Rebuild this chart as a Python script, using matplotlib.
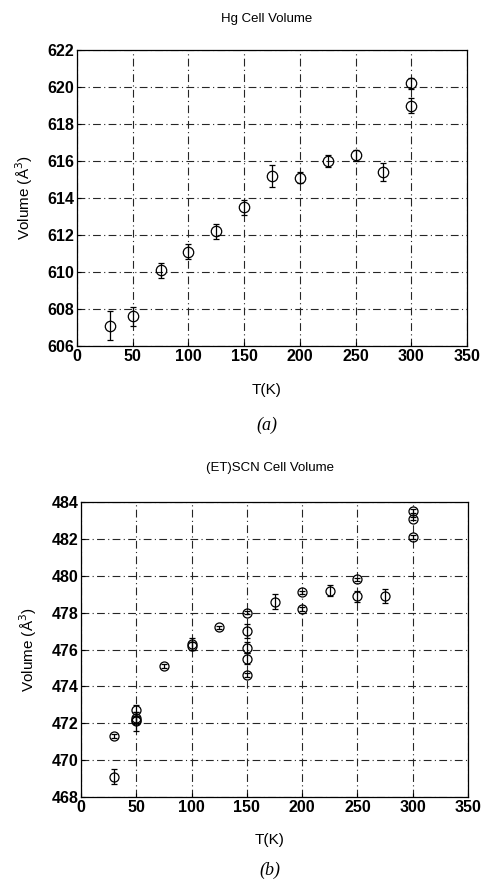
import matplotlib
matplotlib.use('Agg')
import matplotlib.pyplot as plt

# Hg cell volume
hg_T = [30, 50, 75, 100, 125, 150, 175, 200, 225, 250, 275, 300, 300]
hg_V = [607.1, 607.6, 610.1, 611.1, 612.2, 613.5, 615.2, 615.1, 616.0, 616.3, 615.4, 620.2, 619.0]
hg_err = [0.8, 0.5, 0.4, 0.4, 0.4, 0.4, 0.6, 0.3, 0.3, 0.3, 0.5, 0.3, 0.4]

# (ET)SCN cell volume
et_T = [30, 30, 50, 50, 50, 50, 75, 100, 100, 125, 150, 150, 150, 150, 150,
        175, 200, 200, 225, 250, 250, 275, 300, 300, 300]
et_V = [471.3, 469.1, 472.7, 472.3, 472.1, 472.2, 475.1, 476.3, 476.2, 477.2,
        478.0, 477.0, 476.1, 475.5, 474.6, 478.6, 479.1, 478.2, 479.2, 479.8,
        478.9, 478.9, 483.5, 483.1, 482.1]
et_err = [0.1, 0.4, 0.3, 0.3, 0.5, 0.2, 0.1, 0.3, 0.2, 0.1, 0.1, 0.4, 0.3,
          0.3, 0.1, 0.4, 0.1, 0.1, 0.3, 0.1, 0.3, 0.4, 0.1, 0.1, 0.1]

xticks = [0, 50, 100, 150, 200, 250, 300, 350]

plt.rcParams['font.family'] = ['Liberation Sans', 'DejaVu Sans']

fig = plt.figure(figsize=(4.83, 8.81), dpi=100)
W, H = 483.0, 881.0

def panel(rect, T, V, err, yticks, title, tag, title_y, xlab_y, tag_y, ms):
    l, t, r, b = rect
    ax = fig.add_axes([l / W, 1 - b / H, (r - l) / W, (b - t) / H])
    ax.errorbar(T, V, yerr=err, fmt='o', mfc='none', mec='black', ecolor='black',
                ms=ms, mew=0.9, elinewidth=0.9, capsize=2, capthick=0.9)
    ax.set_xlim(0, 350)
    ax.set_ylim(yticks[0], yticks[-1])
    ax.set_xticks(xticks)
    ax.set_yticks(yticks)
    ax.grid(True, color='0.15', linestyle=(0, (7, 3, 1, 3)), linewidth=0.8)
    ax.tick_params(direction='in', length=3, labelsize=11.5, pad=2)
    for lab in ax.get_xticklabels() + ax.get_yticklabels():
        lab.set_fontweight('bold')
    for s in ax.spines.values():
        s.set_linewidth(0.9)
    ax.set_ylabel('Volume (Å$^3$)', fontsize=11, labelpad=9)
    fig.text(((l + r) / 2 - 5) / W, 1 - title_y / H, title, ha='center', va='center', fontsize=9.5)
    fig.text(((l + r) / 2 - 5) / W, 1 - xlab_y / H, 'T(K)', ha='center', va='center', fontsize=11)
    fig.text(((l + r) / 2 - 5) / W, 1 - tag_y / H, tag, ha='center', va='center', fontsize=13,
             style='italic', family='Liberation Serif')
    return ax

panel((77, 50, 467, 346), hg_T, hg_V, hg_err, list(range(606, 623, 2)),
      'Hg Cell Volume', '(a)', 19, 390, 425, 7.5)
panel((81, 502, 468, 797), et_T, et_V, et_err, list(range(468, 485, 2)),
      '(ET)SCN Cell Volume', '(b)', 468, 840, 870, 6.5)

fig.savefig('out.png', dpi=100)
